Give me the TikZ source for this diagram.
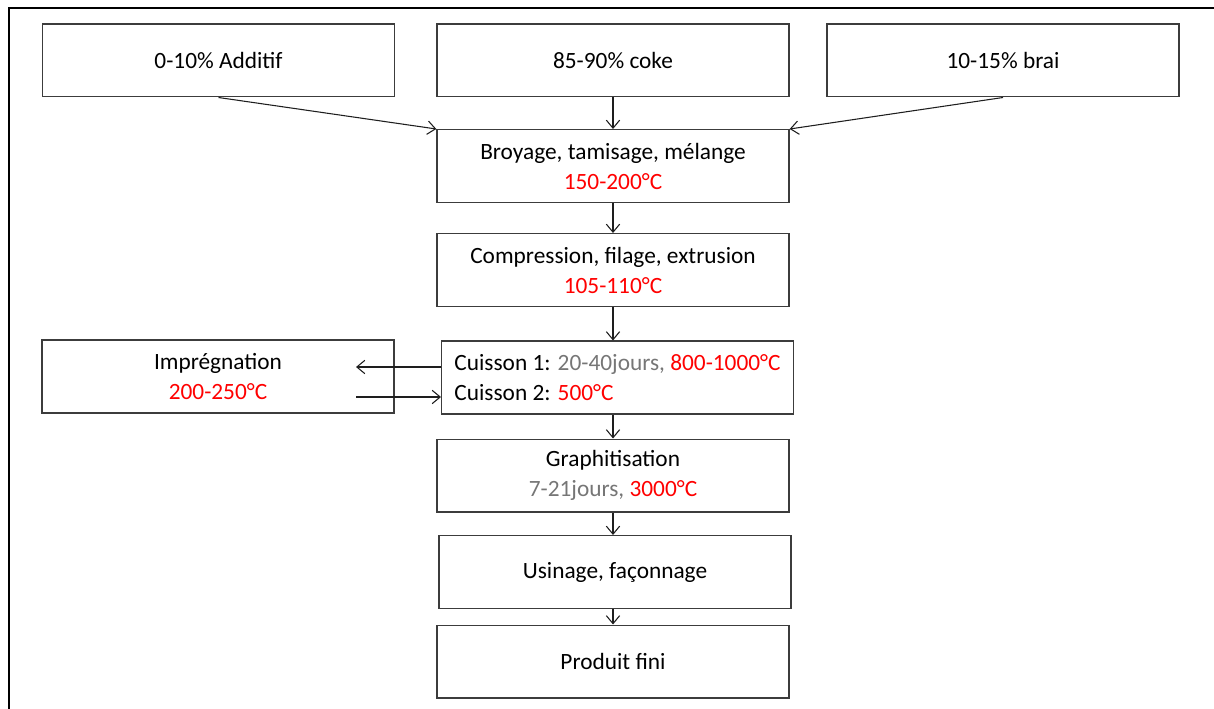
\documentclass[tikz,border=0pt]{standalone}
\usepackage{fontspec}
\setmainfont{Carlito}
\usetikzlibrary{arrows.meta,calc}

\definecolor{tempred}{RGB}{255,0,0}
\definecolor{daygray}{RGB}{118,118,118}

\tikzset{every picture/.style={line width=0.75pt}}
\tikzset{
	stepbox/.style={draw={rgb, 255:red, 60; green, 60; blue, 60}, line width=1pt, rectangle, minimum width=264pt, minimum height=54.5pt, inner sep=0pt, align=center, font=\fontsize{17.5}{22.5}\selectfont},
	flow/.style={draw={rgb, 255:red, 30; green, 30; blue, 30}, line width=0.8pt, -{Straight Barb[length=6pt,width=10pt]}}
}

\begin{document}
\begin{tikzpicture}[x=0.75pt,y=0.75pt,yscale=-1,xscale=1]
	\useasboundingbox (0,0) rectangle (1214,709);

	%Shape: Frame
	\draw [line width=1.4pt] (9,712) -- (9,8) -- (1216,8) ;

	% Text Node
	\node [stepbox] (add) at (218.5,60.5) {0-10\% Additif};
	% Text Node
	\node [stepbox] (coke) at (613,60.5) {85-90\% coke};
	% Text Node
	\node [stepbox] (brai) at (1003,60.5) {10-15\% brai};
	% Text Node
	\node [stepbox] (broy) at (613,166) {Broyage, tamisage, mélange\\\textcolor{tempred}{150-200°C}};
	% Text Node
	\node [stepbox] (comp) at (613,270) {Compression, filage, extrusion\\\textcolor{tempred}{105-110°C}};
	% Text Node
	\node [stepbox, align=left] (cuis) at (617.5,377.5) {Cuisson 1: \textcolor{daygray}{20-40jours,} \textcolor{tempred}{800-1000°C}\\Cuisson 2: \textcolor{tempred}{500°C}};
	% Text Node
	\node [stepbox] (imp) at (218,376.5) {Imprégnation\\\textcolor{tempred}{200-250°C}};
	% Text Node
	\node [stepbox] (graph) at (613,475.5) {Graphitisation\\\textcolor{daygray}{7-21jours,} \textcolor{tempred}{3000°C}};
	% Text Node
	\node [stepbox] (usin) at (615,572) {Usinage, façonnage};
	% Text Node
	\node [stepbox] (prod) at (613,661.5) {Produit fini};

	% ends of the loop arrows
	\coordinate (cuisout) at (441,367);
	\coordinate (impin) at (356,367);
	\coordinate (impout) at (356,397);
	\coordinate (cuisin) at (441,397);

	%Arrows
	\draw [flow] (add.south) -- (broy.north west);
	\draw [flow] (coke) -- (broy);
	\draw [flow] (brai.south) -- (broy.north east);
	\draw [flow] (broy) -- (comp);
	\draw [flow] (comp) -- (comp |- cuis.north);
	\draw [flow] (cuis.south -| graph) -- (graph);
	\draw [flow] (graph) -- (graph |- usin.north);
	\draw [flow] (usin.south -| prod) -- (prod);
	\draw [flow] (cuisout) -- (impin);
	\draw [flow] (impout) -- (cuisin);

\end{tikzpicture}
\end{document}
